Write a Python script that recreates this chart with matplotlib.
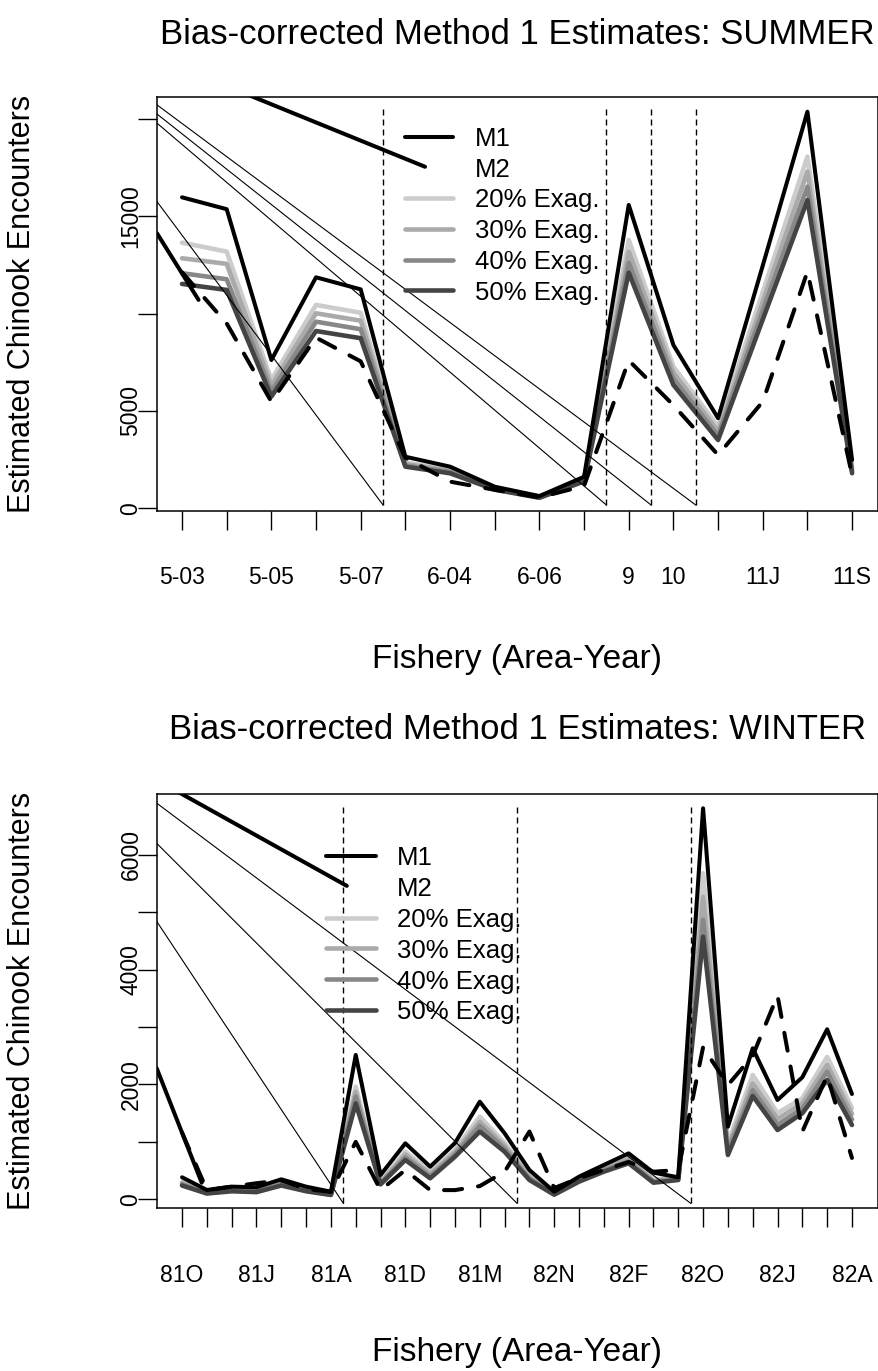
import numpy as np
import matplotlib.pyplot as plt

plt.rcParams['font.family'] = ['Liberation Sans', 'DejaVu Sans']

# ---------------- SUMMER (16 fisheries) ----------------
summer_labels = ['5-03', '', '5-05', '', '5-07', '', '6-04', '', '6-06', '',
                 '9', '10', '', '11J', '', '11S']
summer_m1 = [15980, 15370, 7620, 11870, 11250, 2650, 2140, 1110, 630, 1620,
             15590, 8390, 4630, 12470, 20380, 2480]
summer_m2 = [12130, 9500, 5480, 8770, 7550, 2600, 1370, 950, 560, 1150,
             7600, 5300, 2740, 5480, 12160, 1700]
summer_e20 = [13650, 13190, 6590, 10450, 10050, 2350, 1980, 1060, 600, 1500,
              13790, 7280, 4190, 11100, 18070, 2150]
summer_e30 = [12850, 12560, 6300, 10020, 9640, 2280, 1930, 1030, 580, 1460,
              13190, 6970, 3960, 10600, 17300, 2000]
summer_e40 = [12080, 11770, 6000, 9590, 9200, 2200, 1870, 1000, 560, 1420,
              12620, 6650, 3730, 10150, 16530, 1900]
summer_e50 = [11530, 11220, 5740, 9110, 8740, 2140, 1800, 960, 540, 1380,
              12110, 6340, 3510, 9700, 15840, 1800]
summer_breaks = [5.5, 10.5, 11.5, 12.5]
summer_break_y = [170, 20640]
summer_ref_start = [15760, 19790, 20260, 20730]   # thin lines, value at left edge
summer_stray_x = [[0.44, 6.44], [0.44, 1.37]]
summer_stray_y = [[23150, 17550], [14130, 10710]]

# ---------------- WINTER (28 fisheries) ----------------
winter_labels = ['81O', '', '', '81J', '', '', '81A', '', '', '81D', '', '',
                 '81M', '', '', '82N', '', '', '82F', '', '', '82O', '', '',
                 '82J', '', '', '82A']
winter_m1 = [383, 162, 220, 209, 348, 220, 132, 2514, 423, 975, 568, 980,
             1700, 1150, 510, 132, 394, 598, 800, 464, 383, 6811, 1265, 2630,
             1730, 2125, 2961, 1834]
winter_m2 = [1160, 160, 220, 280, 330, 180, 130, 1000, 160, 510, 160, 160,
             230, 480, 1180, 195, 370, 510, 650, 480, 510, 2650, 1990, 2500,
             3550, 1180, 2150, 720]
winter_e20 = [300, 130, 170, 150, 290, 170, 95, 1960, 300, 830, 480, 860,
              1440, 980, 420, 120, 370, 570, 740, 340, 390, 5680, 975, 2165,
              1500, 1760, 2480, 1590]
winter_e30 = [280, 120, 160, 140, 275, 160, 90, 1870, 290, 780, 440, 820,
              1350, 930, 390, 110, 350, 540, 700, 320, 370, 5270, 910, 2020,
              1400, 1670, 2340, 1490]
winter_e40 = [260, 110, 150, 130, 260, 150, 85, 1790, 275, 730, 400, 780,
              1280, 880, 360, 95, 330, 510, 660, 305, 350, 4870, 840, 1900,
              1300, 1580, 2220, 1390]
winter_e50 = [240, 100, 140, 125, 240, 140, 75, 1670, 260, 685, 366, 742,
              1180, 829, 336, 80, 307, 481, 627, 289, 336, 4575, 772, 1800,
              1207, 1498, 2078, 1294]
winter_breaks = [7.5, 14.5, 21.5]
winter_break_y = [-70, 6870]
winter_ref_start = [4840, 6200, 6900]
winter_stray_x = [[-0.09, 7.64], [-0.02, 1.79]]
winter_stray_y = [[7320, 5460], [2280, 290]]

names = ['M1', 'M2', '20% Exag.', '30% Exag.', '40% Exag.', '50% Exag.']
greys = ['#cccccc', '#aaaaaa', '#888888', '#444444']

W, H = 879, 1371
fig = plt.figure(figsize=(W / 100, H / 100), dpi=100)


def box(l, t, r, b):
    return [l / W, 1 - b / H, (r - l) / W, (b - t) / H]


def panel(rect, labels, m1, m2, exag, breaks, break_y, ref_start, ref_x0,
          stray_x, stray_y, xlim, ylim, yticks, ylabs, leg_x, leg_y, title,
          title_y, xlab_y):
    ax = fig.add_axes(box(*rect))
    x = np.arange(1, len(m1) + 1)
    for vals, c in zip(exag, greys):
        ax.plot(x, vals, color=c, lw=3.3, solid_joinstyle='round', solid_capstyle='round')
    ax.plot(x, m1, color='black', lw=2.9, solid_joinstyle='round', solid_capstyle='round')
    ax.plot(x, m2, color='black', lw=2.9, dashes=(4.5, 4.0),
            dash_capstyle='round', dash_joinstyle='round')
    for sx, sy in zip(stray_x, stray_y):
        ax.plot(sx, sy, color='black', lw=2.9, solid_capstyle='round')
    for b, v in zip(breaks, ref_start):
        ax.plot([ref_x0, b], [v, break_y[0]], color='black', lw=0.8)
        ax.plot([b, b], break_y, color='black', lw=1.0, dashes=(4.3, 2.9))
    ax.set_xlim(*xlim)
    ax.set_ylim(*ylim)
    ax.set_xticks(x)
    ax.set_xticklabels(labels, fontsize=16.5)
    ax.set_yticks(yticks)
    ax.set_yticklabels(ylabs, fontsize=16.5, rotation=90, va='center')
    ax.tick_params(axis='x', length=14, width=1.0, direction='out', pad=26)
    ax.tick_params(axis='y', length=14, width=1.0, direction='out', pad=-3.5)
    for s in ax.spines.values():
        s.set_linewidth(1.1)

    # legend (drawn by hand, R style, no frame)
    lx0, lx1, tx = leg_x
    y0, dy = leg_y
    cols = ['black', None] + greys
    for k, (nm, c) in enumerate(zip(names, cols)):
        yy = 1 - (y0 + k * dy) / H
        if c is not None:
            fig.add_artist(plt.Line2D([lx0 / W, lx1 / W], [yy, yy], color=c,
                                      lw=3.3 if k > 1 else 2.9,
                                      solid_capstyle='round'))
        fig.text(tx / W, yy - 9.2 / H, nm, fontsize=18.5, ha='left', va='baseline')

    cx = (rect[0] + rect[2]) / 2 / W
    fig.text(cx, 1 - title_y / H, title, fontsize=25, ha='center', va='baseline')
    fig.text(cx, 1 - xlab_y / H, 'Fishery (Area-Year)', fontsize=24,
             ha='center', va='baseline')
    fig.text(22 / W, 1 - (rect[1] + rect[3]) / 2 / H, 'Estimated Chinook Encounters',
             fontsize=22, rotation=90, ha='center', va='center')
    return ax


panel((157, 96.7, 878, 510.7), summer_labels, summer_m1, summer_m2,
      [summer_e20, summer_e30, summer_e40, summer_e50],
      summer_breaks, summer_break_y, summer_ref_start, 0.44,
      summer_stray_x, summer_stray_y, (0.44, 16.58), (-123, 21150),
      [0, 5000, 10000, 15000, 20000], ['0', '5000', '', '15000', ''],
      (405, 453, 475), (136.7, 30.75),
      'Bias-corrected Method 1 Estimates: SUMMER', 44, 668)

panel((157, 794, 878, 1208.3), winter_labels, winter_m1, winter_m2,
      [winter_e20, winter_e30, winter_e40, winter_e50],
      winter_breaks, winter_break_y, winter_ref_start, -0.02,
      winter_stray_x, winter_stray_y, (-0.01, 29.05), (-157, 7060),
      [0, 1000, 2000, 3000, 4000, 5000, 6000],
      ['0', '', '2000', '', '4000', '', '6000'],
      (326, 376, 397), (855.7, 30.9),
      'Bias-corrected Method 1 Estimates: WINTER', 739, 1361)

fig.savefig('out.png', dpi=100)
